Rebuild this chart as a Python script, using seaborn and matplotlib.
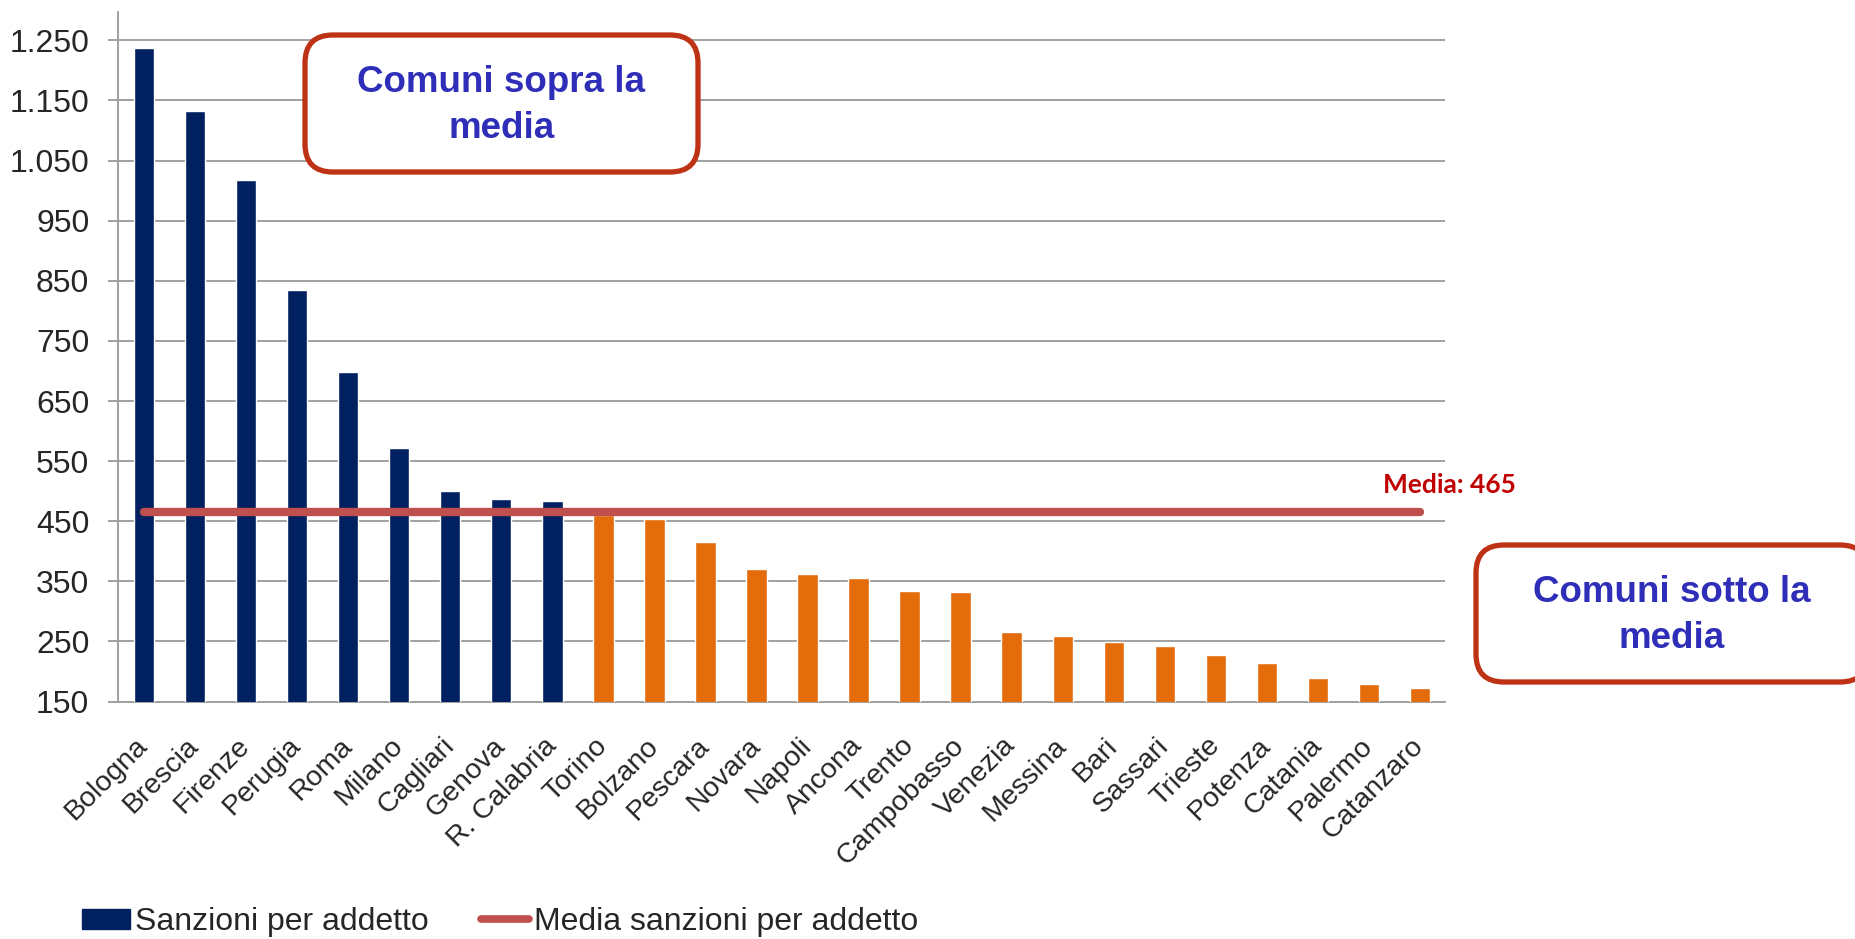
import matplotlib
matplotlib.use("Agg")
import matplotlib.pyplot as plt
import seaborn as sns
import pandas as pd
from matplotlib.patches import FancyBboxPatch, Patch
from matplotlib.lines import Line2D

# data
comuni = ["Bologna", "Brescia", "Firenze", "Perugia", "Roma", "Milano", "Cagliari",
          "Genova", "R. Calabria", "Torino", "Bolzano", "Pescara", "Novara", "Napoli",
          "Ancona", "Trento", "Campobasso", "Venezia", "Messina", "Bari", "Sassari",
          "Trieste", "Potenza", "Catania", "Palermo", "Catanzaro"]
sanzioni = [1237, 1132, 1017, 834, 698, 572, 500, 487, 483, 461, 454, 415, 370, 362,
            355, 334, 332, 266, 259, 249, 242, 227, 215, 189, 180, 172]
media = 465
y_ticks = [150, 250, 350, 450, 550, 650, 750, 850, 950, 1050, 1150, 1250]
y_labels = ["150", "250", "350", "450", "550", "650", "750", "850", "950",
            "1.050", "1.150", "1.250"]

df = pd.DataFrame({"comune": comuni, "sanzioni": sanzioni})
df["gruppo"] = ["sopra" if v > media else "sotto" for v in df["sanzioni"]]

navy = "#002060"
orange = "#E46C0A"
red_line = "#C0504D"
grid_col = "#A0A0A0"

sns.set_style("white")
plt.rcParams["font.family"] = ["Liberation Sans", "DejaVu Sans"]

W, H = 1856, 939
fig = plt.figure(figsize=(W / 100, H / 100), dpi=100)
ax = fig.add_axes([118.5 / W, 1 - 701.6 / H, (1445.5 - 118.5) / W, (701.6 - 11.5) / H])

sns.barplot(data=df, x="comune", y="sanzioni", hue="gruppo",
            palette={"sopra": navy, "sotto": orange}, dodge=False,
            width=0.4, saturation=1, legend=False, ax=ax, zorder=3)

# media line from first to last bar
ax.plot([0, len(comuni) - 1], [media, media], color=red_line, lw=6,
        solid_capstyle="round", zorder=4)

ax.set_ylim(150, 1298)
ax.set_xlim(-0.5, len(comuni) - 0.5)
ax.set_yticks(y_ticks, y_labels)
ax.yaxis.grid(True, color=grid_col, lw=1.4, zorder=0)
ax.set_axisbelow(True)
ax.set_xlabel("")
ax.set_ylabel("")
for s in ["top", "right"]:
    ax.spines[s].set_visible(False)
for s in ["left", "bottom"]:
    ax.spines[s].set_color(grid_col)
    ax.spines[s].set_linewidth(1.4)
ax.tick_params(axis="y", length=7.5, width=1.4, color=grid_col, pad=13.5,
               labelsize=23, direction="out", left=True)
ax.tick_params(axis="x", length=0, pad=29, labelsize=20.5)
plt.setp(ax.get_xticklabels(), rotation=45, ha="right", va="center",
         rotation_mode="anchor")

ax.text(len(comuni) - 1.73, 497, "Media: 465", color="#C00000",
        fontsize=19, fontweight="bold", family=["Lato", "DejaVu Sans"],
        ha="left", va="baseline")

# overlay in pixel coordinates for the callout boxes
ov = fig.add_axes([0, 0, 1, 1], zorder=10)
ov.set_xlim(0, W)
ov.set_ylim(H, 0)
ov.axis("off")
ov.patch.set_alpha(0)

box_col = "#BE3216"
text_col = "#2E2EB8"
for (x0, y0, x1, y1, label) in [(305, 35, 698, 172, "Comuni sopra la\nmedia"),
                                (1476, 545, 1868, 682, "Comuni sotto la\nmedia")]:
    ov.add_patch(FancyBboxPatch((x0, y0), x1 - x0, y1 - y0,
                                boxstyle="round,pad=0,rounding_size=28",
                                fc="white", ec=box_col, lw=3.8))
    ov.text((x0 + x1) / 2, (y0 + y1) / 2 + 2, label, ha="center", va="center",
            fontsize=26.5, fontweight="bold", color=text_col, linespacing=1.42)

handles = [Patch(facecolor=navy, edgecolor=navy),
           Line2D([0], [0], color=red_line, lw=5.5)]
fig.legend(handles, ["Sanzioni per addetto", "Media sanzioni per addetto"],
           loc="lower left", bbox_to_anchor=(82 / W, 0.002), ncol=2,
           frameon=False, fontsize=23, handlelength=1.5, handleheight=0.6,
           handletextpad=0.15, columnspacing=1.65, borderpad=0, borderaxespad=0)

plt.savefig("out.png", dpi=100)
